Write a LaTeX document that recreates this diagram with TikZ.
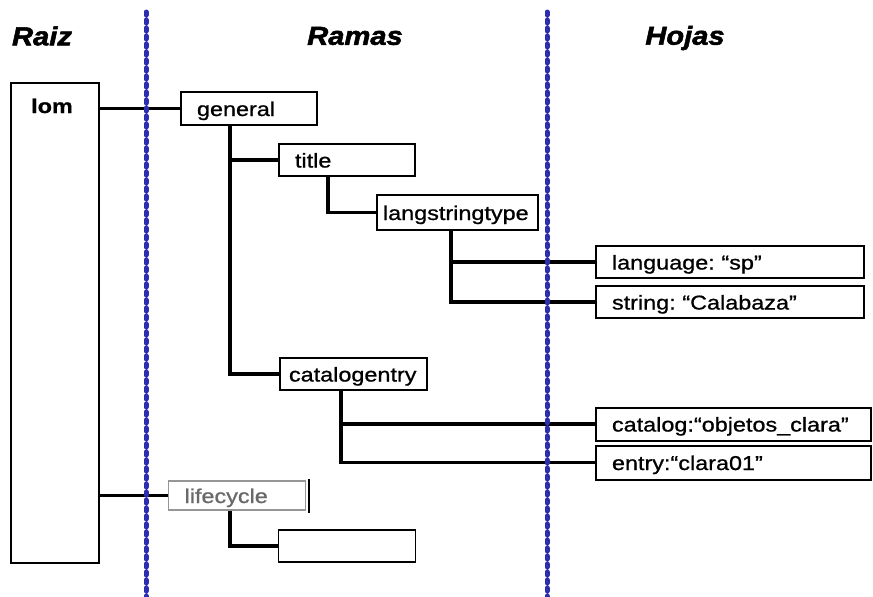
\documentclass[tikz,border=0pt]{standalone}
\usepackage{fontspec}
\setmainfont[FakeStretch=1.17,FakeBold=0.9]{Liberation Sans}
\newfontfamily\headfont[FakeStretch=1.12,FakeBold=2]{Liberation Sans}
\usetikzlibrary{calc}
\definecolor{divblue}{RGB}{45,45,175}
\definecolor{fadegray}{RGB}{105,105,105}
\frenchspacing

\begin{document}
\begin{tikzpicture}[x=1pt,y=-1pt,
    box/.style={draw, line width=2pt, anchor=west, inner xsep=16pt, inner ysep=0pt,
      minimum height=32pt, text width=#1, align=left, text height=17pt, text depth=2pt,
      font=\fontsize{20}{24}\selectfont},
    branch/.style={line width=3.4pt},
    stem/.style={line width=2.4pt},
    divider/.style={draw=divblue, line width=5pt, line cap=round, dash pattern=on 3pt off 5pt},
    heading/.style={font=\headfont\bfseries\itshape\fontsize{26}{30}\selectfont}]
  \useasboundingbox (0,0) rectangle (873,597);

  % column titles
  \node[heading] (Raiz) at (42,36) {Raiz};
  \node[heading] (Ramas) at (355,36) {Ramas};
  \node[heading] (Hojas) at (685,38) {Hojas};

  % root
  \node[draw, line width=2pt, anchor=north west, minimum width=88pt, minimum height=480pt] (Lom) at (10,82) {};
  \node[anchor=base, font=\fontsize{20}{24}\selectfont\bfseries] (LomLabel) at (52,113) {lom};

  % branches
  \node[box=104pt, minimum height=33pt] (General) at (180,108.5) {general};
  \node[box=104pt] (Title) at (278,160) {title};
  \node[box=149pt, inner xsep=6pt, minimum height=35pt] (LangString) at (376,212.5) {langstringtype};
  \node[box=129pt, inner xsep=9pt] (CatalogEntry) at (279,374) {catalogentry};
  \node[box=105pt, draw=fadegray!70, text=fadegray, line width=1.2pt, minimum height=29pt] (LifeCycle) at (168,495.5) {lifecycle};
  \node[box=105pt, line width=1.4pt] (Blank) at (278,546) {};

  % leaves
  \node[box=236pt] (Language) at (595,262) {language: ``sp''};
  \node[box=236pt] (String) at (595,302) {string: ``Calabaza''};
  \node[box=243pt, minimum height=33pt] (Catalog) at (595,424) {catalog:``objetos\_clara''};
  \node[box=243pt, minimum height=34pt] (Entry) at (595,462.5) {entry:``clara01''};

  \draw[stem] (Lom.east |- General.west) -- (General.west);
  \draw[stem] (Lom.east |- LifeCycle.west) -- (LifeCycle.west);
  \draw[branch] ([xshift=50pt]General.south west) |- (Title.west);
  \draw[branch] ([xshift=50pt]General.south west) |- (CatalogEntry.west);
  \draw[branch] ([xshift=50pt]Title.south west) |- (LangString.west);
  \draw[branch] ([xshift=75pt]LangString.south west) |- (Language.west);
  \draw[branch] ([xshift=75pt]LangString.south west) |- (String.west);
  \draw[branch] ([xshift=62pt]CatalogEntry.south west) |- (Catalog.west);
  \draw[branch] ([xshift=62pt]CatalogEntry.south west) |- (Entry.west);
  \draw[branch] ([xshift=62pt]LifeCycle.south west) |- (Blank.west);
  \draw[line width=2pt] ([xshift=3pt,yshift=1pt]LifeCycle.north east) -- ([xshift=3pt,yshift=-2pt]LifeCycle.south east);

  % column separators
  \draw[divider] (146,12) -- (146,597);
  \draw[divider] (547,12) -- (547,597);
\end{tikzpicture}
\end{document}
